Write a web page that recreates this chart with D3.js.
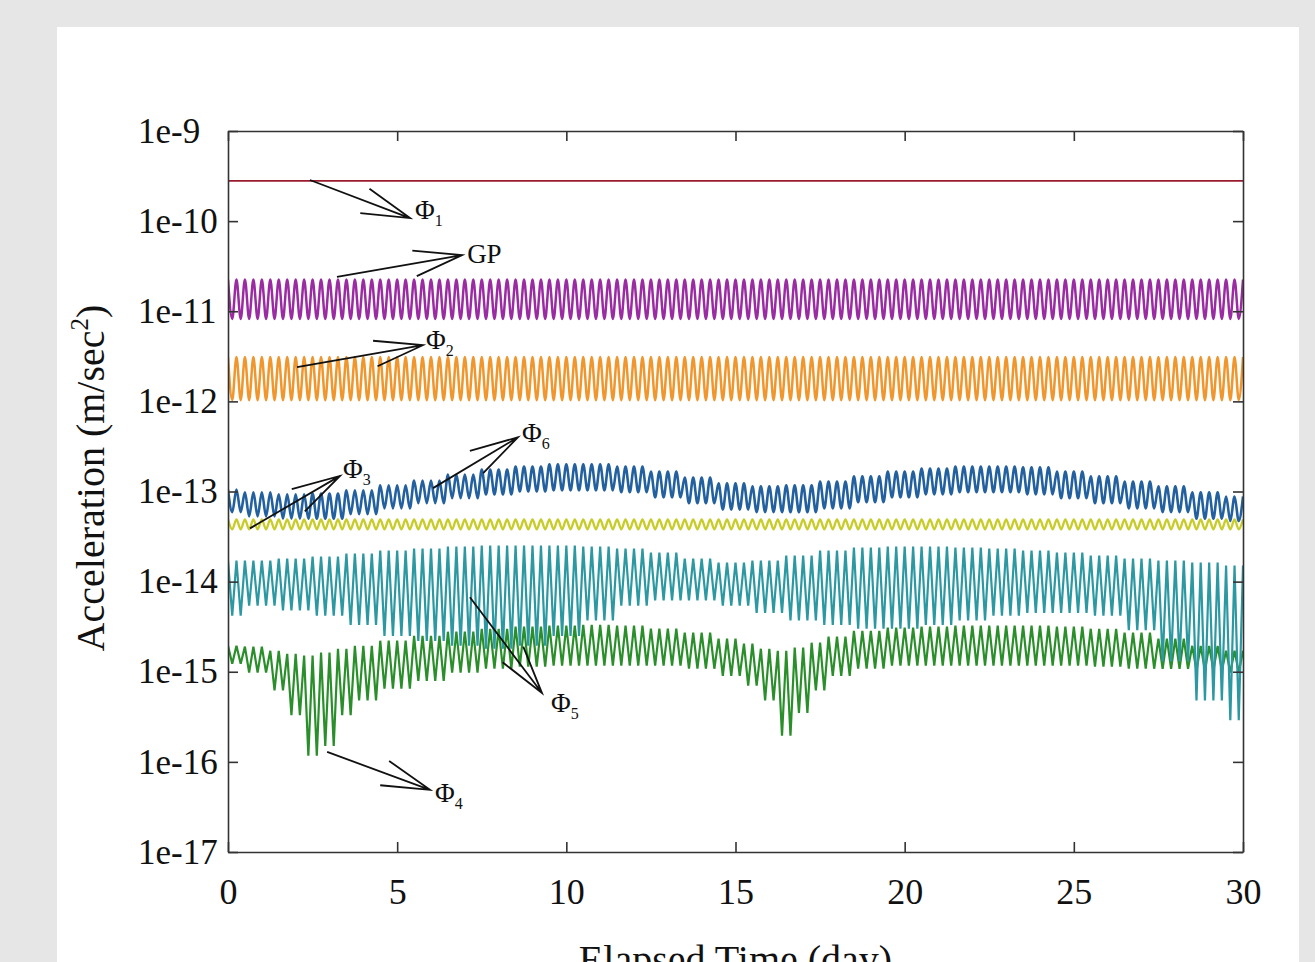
<!DOCTYPE html>
<html>
<head>
<meta charset="utf-8">
<script src="https://cdn.jsdelivr.net/npm/d3@7"></script>
<style>
  body { margin: 0; background: #e6e6e6; }
  svg text { font-family: "Liberation Serif", "Times New Roman", serif; fill: #111; }
</style>
</head>
<body>
<div id="chart"></div>
<script>
// axis ticks
const xTicks = [0, 5, 10, 15, 20, 25, 30];
const yTicks = [1e-17, 1e-16, 1e-15, 1e-14, 1e-13, 1e-12, 1e-11, 1e-10, 1e-9];
const yTickLabels = ["1e-17", "1e-16", "1e-15", "1e-14", "1e-13", "1e-12", "1e-11", "1e-10", "1e-9"];

// oscillation rate (cycles per day)
const cyclesPerDay = 4;

// each oscillating trace: sample days + upper / lower envelope
const phi1Days = [0, 30];
const phi1Values = [2.8e-10, 2.8e-10];

const gpDays = [0, 30];
const gpUpper = [2.25e-11, 2.25e-11];
const gpLower = [8.2e-12, 8.2e-12];

const phi2Days = [0, 30];
const phi2Upper = [3.1e-12, 3.1e-12];
const phi2Lower = [1.03e-12, 1.03e-12];

const phi6Days = [0, 1, 2, 3, 4, 5, 6, 7, 8, 9, 10, 11, 12, 13, 14, 15, 16, 17, 18, 19, 20, 21, 22, 23, 24, 25, 26, 27, 28, 29, 30];
const phi6Upper = [1.05e-13, 0.98e-13, 0.93e-13, 0.95e-13, 1.03e-13, 1.17e-13, 1.32e-13, 1.54e-13, 1.75e-13, 1.89e-13, 2.0e-13,
  2.0e-13, 1.89e-13, 1.67e-13, 1.43e-13, 1.23e-13, 1.14e-13, 1.17e-13, 1.29e-13, 1.47e-13, 1.67e-13,
  1.80e-13, 1.89e-13, 1.89e-13, 1.85e-13, 1.67e-13, 1.47e-13, 1.29e-13, 1.14e-13, 0.98e-13, 0.88e-13];
const phi6Lower = [0.59e-13, 0.53e-13, 0.50e-13, 0.50e-13, 0.56e-13, 0.65e-13, 0.74e-13, 0.84e-13, 0.93e-13, 1.0e-13, 1.03e-13,
  1.03e-13, 0.98e-13, 0.86e-13, 0.74e-13, 0.63e-13, 0.59e-13, 0.59e-13, 0.65e-13, 0.76e-13, 0.86e-13,
  0.93e-13, 0.98e-13, 0.98e-13, 0.93e-13, 0.84e-13, 0.74e-13, 0.65e-13, 0.59e-13, 0.50e-13, 0.47e-13];

const phi3Days = [0, 30];
const phi3Upper = [4.9e-14, 4.9e-14];
const phi3Lower = [3.8e-14, 3.8e-14];

const phi5Days = [0, 1, 2, 3, 4, 5, 6, 7, 8, 9, 10, 11, 12, 13, 14, 15, 16, 17, 18, 19, 20, 21, 22, 23, 24, 25, 26, 27, 28, 29, 30];
const phi5Upper = [1.71e-14, 1.71e-14, 1.80e-14, 1.90e-14, 2.05e-14, 2.21e-14, 2.33e-14, 2.45e-14, 2.51e-14, 2.51e-14, 2.51e-14,
  2.45e-14, 2.33e-14, 2.10e-14, 1.80e-14, 1.63e-14, 1.71e-14, 1.94e-14, 2.21e-14, 2.39e-14, 2.45e-14,
  2.45e-14, 2.39e-14, 2.33e-14, 2.21e-14, 2.10e-14, 1.94e-14, 1.80e-14, 1.71e-14, 1.63e-14, 1.51e-14];
const phi5Lower = [4.2e-15, 5.4e-15, 4.8e-15, 4.2e-15, 3.3e-15, 2.5e-15, 2.2e-15, 1.95e-15, 1.8e-15, 1.95e-15, 2.5e-15,
  3.7e-15, 5.4e-15, 6.2e-15, 6.2e-15, 5.4e-15, 4.5e-15, 3.7e-15, 3.3e-15, 3.0e-15, 3.0e-15,
  3.3e-15, 3.7e-15, 4.2e-15, 4.5e-15, 4.5e-15, 4.2e-15, 2.9e-15, 1.3e-15, 4.8e-16, 2.9e-16];

const phi4Days = [0, 1, 1.5, 2, 2.5, 3, 3.5, 4, 5, 6, 7, 8, 9, 10, 11, 12, 13, 14, 15, 15.5, 16, 16.5, 17, 17.5, 18,
  19, 20, 21, 22, 23, 24, 25, 26, 27, 28, 29, 30];
const phi4Upper = [1.94e-15, 1.90e-15, 1.71e-15, 1.58e-15, 1.51e-15, 1.63e-15, 1.80e-15, 1.94e-15, 2.21e-15, 2.51e-15,
  2.78e-15, 3.0e-15, 3.16e-15, 3.24e-15, 3.32e-15, 3.24e-15, 3.0e-15, 2.71e-15, 2.33e-15, 2.05e-15, 1.80e-15,
  1.71e-15, 1.85e-15, 2.10e-15, 2.45e-15, 2.85e-15, 3.08e-15, 3.16e-15, 3.24e-15, 3.24e-15, 3.24e-15, 3.16e-15,
  3.0e-15, 2.71e-15, 2.33e-15, 1.94e-15, 1.71e-15];
const phi4Lower = [1.23e-15, 9.8e-16, 6.2e-16, 3.3e-16, 1.17e-16, 1.5e-16, 3.3e-16, 4.8e-16, 6.5e-16, 7.9e-16,
  9.8e-16, 1.08e-15, 1.14e-15, 1.17e-15, 1.17e-15, 1.17e-15, 1.17e-15, 1.08e-15, 9.0e-16, 7.0e-16, 4.8e-16,
  1.95e-16, 3.5e-16, 6.2e-16, 9.0e-16, 1.08e-15, 1.17e-15, 1.17e-15, 1.17e-15, 1.17e-15, 1.17e-15, 1.17e-15,
  1.14e-15, 1.08e-15, 1.08e-15, 1.03e-15, 9.8e-16];

// arrow annotations: tail on the trace, tip next to the label (day, value)
const annotations = [
  { label: "Φ", sub: "1", tail: [2.42, 2.86e-10], tip: [5.38, 1.08e-10], dx: 5, dy: 1 },
  { label: "GP", sub: "", tail: [3.22, 2.4e-11], tip: [6.92, 4.2e-11], dx: 5, dy: 8 },
  { label: "Φ", sub: "2", tail: [2.04, 2.4e-12], tip: [5.76, 4.2e-12], dx: 3, dy: 4 },
  { label: "Φ", sub: "3", tail: [0.65, 3.9e-14], tip: [3.31, 1.49e-13], dx: 3, dy: 2 },
  { label: "Φ", sub: "6", tail: [6.06, 1.09e-13], tip: [8.57, 4.0e-13], dx: 4, dy: 5 },
  { label: "Φ", sub: "5", tail: [7.15, 6.7e-15], tip: [9.28, 5.8e-16], dx: 9, dy: 19 },
  { label: "Φ", sub: "4", tail: [2.93, 1.29e-16], tip: [5.97, 4.9e-17], dx: 5, dy: 12 }
];

const margin = { top: 131, right: 72, bottom: 110, left: 228 };
const width = 1315 - margin.left - margin.right;
const height = 962 - margin.top - margin.bottom;

const svg = d3.select("#chart").append("svg")
  .attr("width", 1315)
  .attr("height", 962);

svg.append("rect")
  .attr("x", 57).attr("y", 27)
  .attr("width", 1242).attr("height", 960)
  .attr("fill", "#fff");

const g = svg.append("g")
  .attr("transform", "translate(" + margin.left + "," + margin.top + ")");

const x_scale = d3.scaleLinear().domain([0, 30]).range([0, width]);
const y_scale = d3.scaleLog().domain([1e-17, 1e-9]).range([height, 0]);

g.append("clipPath").attr("id", "plotclip")
  .append("rect").attr("width", width).attr("height", height);

// zig-zag between the envelopes, one half cycle per point
const zigzag = (days, upper, lower) => {
  const pts = [];
  const n = 30 * 2 * cyclesPerDay;
  for (let j = 0; j <= n; j++) {
    const t = j / (2 * cyclesPerDay);
    const k = d3.bisectCenter(days, t);
    pts.push([t, j % 2 === 0 ? upper[k] : lower[k]]);
  }
  return pts;
};

const smooth = d3.line()
  .x(d => x_scale(d[0]))
  .y(d => y_scale(d[1]))
  .curve(d3.curveMonotoneX);

const sharp = d3.line()
  .x(d => x_scale(d[0]))
  .y(d => y_scale(d[1]));

const traces = g.append("g").attr("clip-path", "url(#plotclip)");

traces.append("path")
  .datum(phi1Days.map((d, i) => [d, phi1Values[i]]))
  .attr("d", sharp)
  .style("fill", "none").style("stroke", "#9b1b2e").style("stroke-width", 1.8);

traces.append("path")
  .datum(zigzag(gpDays, gpUpper, gpLower))
  .attr("d", smooth)
  .style("fill", "none").style("stroke", "#9b2ba3").style("stroke-width", 2.5);

traces.append("path")
  .datum(zigzag(phi2Days, phi2Upper, phi2Lower))
  .attr("d", smooth)
  .style("fill", "none").style("stroke", "#f0962c").style("stroke-width", 2.5);

traces.append("path")
  .datum(zigzag(phi6Days, phi6Upper, phi6Lower))
  .attr("d", smooth)
  .style("fill", "none").style("stroke", "#22609f").style("stroke-width", 2.6);

traces.append("path")
  .datum(zigzag(phi3Days, phi3Upper, phi3Lower))
  .attr("d", smooth)
  .style("fill", "none").style("stroke", "#c8cc28").style("stroke-width", 2.3);

traces.append("path")
  .datum(zigzag(phi4Days, phi4Upper, phi4Lower))
  .attr("d", sharp)
  .style("fill", "none").style("stroke", "#2a8f2a").style("stroke-width", 2.2);

traces.append("path")
  .datum(zigzag(phi5Days, phi5Upper, phi5Lower))
  .attr("d", sharp)
  .style("fill", "none").style("stroke", "#2b98a2").style("stroke-width", 2.2);

// axes, ticks pointing inward on all four sides
g.append("g").attr("class", "axis x")
  .attr("transform", "translate(0," + height + ")")
  .call(d3.axisBottom(x_scale).tickValues(xTicks).tickFormat(d => d)
    .tickSizeInner(-10).tickSizeOuter(0).tickPadding(26));

g.append("g").attr("class", "axis top")
  .call(d3.axisTop(x_scale).tickValues(xTicks).tickFormat("")
    .tickSizeInner(-10).tickSizeOuter(0));

g.append("g").attr("class", "axis y")
  .call(d3.axisLeft(y_scale).tickValues(yTicks).tickFormat((d, i) => yTickLabels[i])
    .tickSizeInner(-10).tickSizeOuter(0).tickPadding(5));

g.append("g").attr("class", "axis right")
  .attr("transform", "translate(" + width + ",0)")
  .call(d3.axisRight(y_scale).tickValues(yTicks).tickFormat("")
    .tickSizeInner(-10).tickSizeOuter(0));

g.selectAll(".axis path, .axis line").style("stroke", "#333").style("stroke-width", 1.6);
g.selectAll(".axis.x text").style("font-size", "36px").style("font-family", "Liberation Serif");
// y labels are left aligned in the reference
g.selectAll(".axis.y text")
  .style("font-size", "35px").style("font-family", "Liberation Serif")
  .attr("text-anchor", "start").attr("x", -90);

// annotation arrows with open heads
const arrows = g.append("g");
annotations.forEach(a => {
  const tx = x_scale(a.tail[0]), ty = y_scale(a.tail[1]);
  const px = x_scale(a.tip[0]), py = y_scale(a.tip[1]);
  const ang = Math.atan2(ty - py, tx - px);
  const barb = 50, spread = 15 * Math.PI / 180;
  const b1 = [px + barb * Math.cos(ang + spread), py + barb * Math.sin(ang + spread)];
  const b2 = [px + barb * Math.cos(ang - spread), py + barb * Math.sin(ang - spread)];
  arrows.append("path")
    .attr("d", "M" + tx + "," + ty + "L" + px + "," + py + "M" + b1[0] + "," + b1[1] + "L" + px + "," + py + "L" + b2[0] + "," + b2[1])
    .style("fill", "none").style("stroke", "#111").style("stroke-width", 1.8);
  const t = arrows.append("text")
    .attr("x", px + a.dx).attr("y", py + a.dy)
    .style("font-size", "27px")
    .text(a.label);
  if (a.sub) {
    t.append("tspan").attr("dy", 7).style("font-size", "16px").text(a.sub);
  }
});

// axis titles
const ylab = svg.append("text")
  .attr("transform", "translate(104,478) rotate(-90)")
  .attr("text-anchor", "middle")
  .style("font-size", "40px")
  .text("Acceleration (m/sec");
ylab.append("tspan").attr("dy", -16).style("font-size", "25px").text("2");
ylab.append("tspan").attr("dy", 16).text(")");

svg.append("text")
  .attr("x", margin.left + width / 2).attr("y", 973)
  .attr("text-anchor", "middle")
  .style("font-size", "40px")
  .text("Elapsed Time (day)");
</script>
</body>
</html>
